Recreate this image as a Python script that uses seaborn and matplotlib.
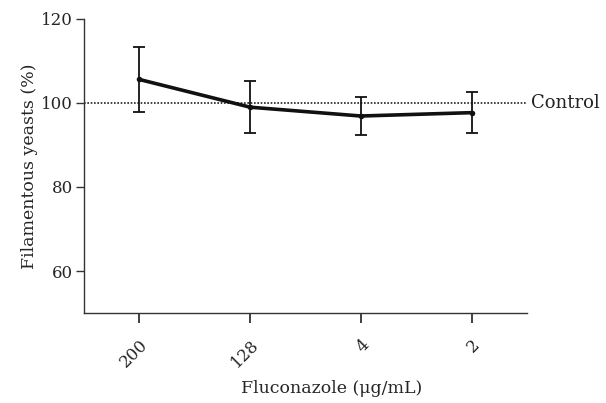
import numpy as np
import pandas as pd
import matplotlib
matplotlib.use('Agg')
import matplotlib.pyplot as plt
import seaborn as sns

sns.set_style('ticks')
plt.rcParams['font.family'] = ['DejaVu Serif']

# data
conc = ['200', '128', '4', '2']
mean_pct = [105.6, 99.0, 96.9, 97.7]
sd_pct = [7.7, 6.2, 4.5, 4.8]
control = 100

df = pd.DataFrame({'pos': np.arange(len(conc)), 'conc': conc,
                   'mean': mean_pct, 'sd': sd_pct})

fig = plt.figure(figsize=(6.06, 4.03), dpi=100)
ax = fig.add_axes([0.1386, 0.2233, 0.7310, 0.7296])

ax.axhline(control, color='#222222', ls=(0, (1, 1)), lw=1.2, zorder=1)
ax.errorbar(df['pos'], df['mean'], yerr=df['sd'], fmt='none',
            ecolor='#111111', elinewidth=1.3, capsize=4, capthick=1.3, zorder=2)
sns.lineplot(data=df, x='pos', y='mean', color='#111111', lw=2.6,
             marker='o', markersize=4, markeredgewidth=0, ax=ax, zorder=3)

ax.text(3.54, control, 'Control', va='center', ha='left', fontsize=13,
        color='#222222', clip_on=False)

ax.set_xlim(-0.5, 3.5)
ax.set_ylim(50, 120)
ax.set_yticks([60, 80, 100, 120])
ax.set_xticks(df['pos'])
ax.set_xticklabels(conc, rotation=45, ha='right', rotation_mode='anchor',
                   fontsize=12)
ax.tick_params(axis='y', labelsize=12, length=6, width=1, color='#333333',
               pad=2)
ax.tick_params(axis='x', length=7, width=1.3, color='#333333', pad=10)
ax.set_xlabel('Fluconazole (μg/mL)', fontsize=12.5)
ax.xaxis.set_label_coords(0.56, -0.228)
ax.set_ylabel('Filamentous yeasts (%)', fontsize=12.5, labelpad=2)
sns.despine(ax=ax)
for s in ['left', 'bottom']:
    ax.spines[s].set_color('#333333')
    ax.spines[s].set_linewidth(1)

fig.savefig('out.png', dpi=100)
